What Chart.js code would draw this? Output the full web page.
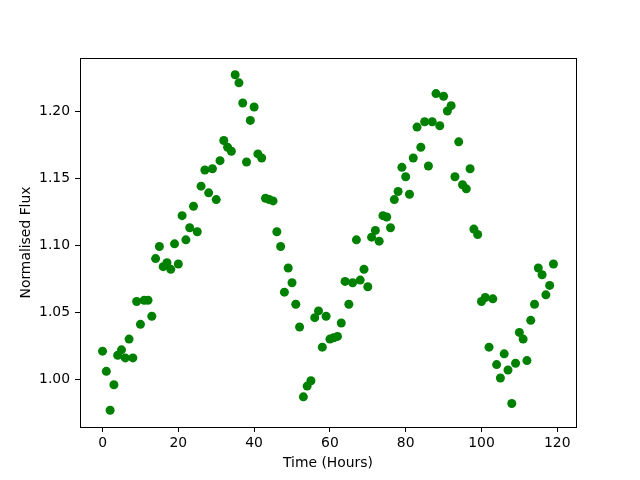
<!DOCTYPE html>
<html>
<head>
<meta charset="utf-8">
<script src="https://cdn.jsdelivr.net/npm/chart.js@4/dist/chart.umd.min.js"></script>
<style>
  html, body { margin: 0; padding: 0; background: #fff; }
  #wrap { width: 640px; height: 480px; }
</style>
</head>
<body>
<div id="wrap"><canvas id="fluxChart" width="640" height="480"></canvas></div>
<script>
// flux per hour, hours 0..119
const flux = [
  1.021, 1.006, 0.977, 0.996, 1.018, 1.022, 1.016, 1.030, 1.016, 1.058,
  1.041, 1.059, 1.059, 1.047, 1.090, 1.099, 1.084, 1.087, 1.082, 1.101,
  1.086, 1.122, 1.104, 1.113, 1.129, 1.110, 1.144, 1.156, 1.139, 1.157,
  1.134, 1.163, 1.178, 1.173, 1.170, 1.227, 1.221, 1.206, 1.162, 1.193,
  1.203, 1.168, 1.165, 1.135, 1.134, 1.133, 1.110, 1.099, 1.065, 1.083,
  1.072, 1.056, 1.039, 0.987, 0.995, 0.999, 1.046, 1.051, 1.024, 1.047,
  1.030, 1.031, 1.032, 1.042, 1.073, 1.056, 1.072, 1.104, 1.074, 1.082,
  1.069, 1.106, 1.111, 1.103, 1.122, 1.121, 1.113, 1.134, 1.140, 1.158,
  1.151, 1.138, 1.165, 1.188, 1.173, 1.192, 1.159, 1.192, 1.213, 1.189,
  1.211, 1.200, 1.204, 1.151, 1.177, 1.145, 1.142, 1.157, 1.112, 1.108,
  1.058, 1.061, 1.024, 1.060, 1.011, 1.001, 1.019, 1.007, 0.982, 1.012,
  1.035, 1.030, 1.014, 1.044, 1.056, 1.083, 1.078, 1.063, 1.070, 1.086
];
const xTicks = [0, 20, 40, 60, 80, 100, 120];
const yTicks = [1.00, 1.05, 1.10, 1.15, 1.20];

const points = flux.map((v, i) => ({ x: i, y: v }));

// matplotlib style 5% margins
const xMin = 0, xMax = flux.length - 1;
const yLo = Math.min(...flux), yHi = Math.max(...flux);
const xPad = (xMax - xMin) * 0.05;
const yPad = (yHi - yLo) * 0.05;

const tickFont = { family: "DejaVu Sans", size: 13.9 };

// box round the plot area
const frame = {
  id: "frame",
  afterDraw(chart) {
    const { ctx, chartArea: a } = chart;
    ctx.save();
    ctx.strokeStyle = "#000";
    ctx.lineWidth = 1;
    ctx.strokeRect(a.left + 0.5, a.top + 0.5, a.right - a.left, a.bottom - a.top);
    ctx.restore();
  },
};

new Chart(document.getElementById("fluxChart"), {
  type: "scatter",
  data: {
    datasets: [
      {
        data: points,
        backgroundColor: "#008000",
        borderWidth: 0,
        pointRadius: 4.5,
        pointHoverRadius: 4.5,
      },
    ],
  },
  options: {
    responsive: false,
    animation: false,
    devicePixelRatio: 1,
    events: [],
    layout: { padding: { left: 0, right: 64, top: 58, bottom: 0 } },
    plugins: { legend: { display: false }, tooltip: { enabled: false } },
    scales: {
      x: {
        type: "linear",
        min: xMin - xPad,
        max: xMax + xPad,
        afterBuildTicks: (s) => { s.ticks = xTicks.map((v) => ({ value: v })); },
        afterFit: (s) => { s.height = 53; },
        border: { display: false },
        grid: { drawOnChartArea: false, drawTicks: true, tickLength: 5, color: "#000" },
        ticks: { color: "#000", font: tickFont, padding: 3, maxRotation: 0, callback: (v) => v },
        title: {
          display: true,
          text: "Time (Hours)",
          color: "#000",
          font: tickFont,
          padding: { top: 0, bottom: 8 },
        },
      },
      y: {
        type: "linear",
        min: yLo - yPad,
        max: yHi + yPad,
        afterBuildTicks: (s) => { s.ticks = yTicks.map((v) => ({ value: v })); },
        afterFit: (s) => { s.width = 80; },
        border: { display: false },
        grid: { drawOnChartArea: false, drawTicks: true, tickLength: 5, color: "#000" },
        ticks: { color: "#000", font: tickFont, padding: 5, callback: (v) => v.toFixed(2) },
        title: {
          display: true,
          text: "Normalised Flux",
          color: "#000",
          font: tickFont,
          padding: { top: 18, bottom: 0 },
        },
      },
    },
  },
  plugins: [frame],
});
</script>
</body>
</html>
